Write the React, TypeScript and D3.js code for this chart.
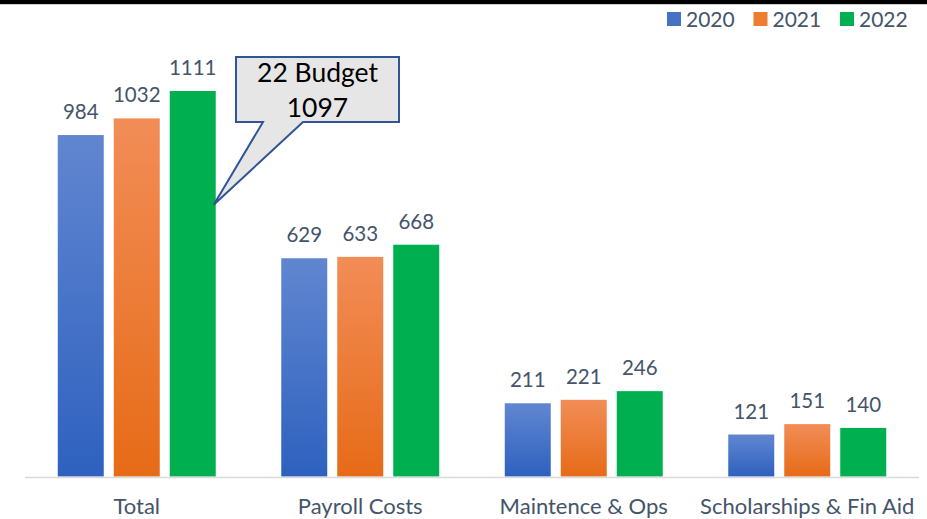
import React from 'react';
import * as d3 from 'd3';

// chart data
const categories = ['Total', 'Payroll Costs', 'Maintence & Ops', 'Scholarships & Fin Aid'];
const years = ['2020', '2021', '2022'];
const values2020 = [984, 629, 211, 121];
const values2021 = [1032, 633, 221, 151];
const values2022 = [1111, 668, 246, 140];
const seriesValues = [values2020, values2021, values2022];
const budgetLabel = ['22 Budget', '1097'];
const budgetPointerAt = 783; // where the callout arrow touches the 2022 Total bar

const W = 927;
const H = 519;
const baseline = 476.5;
const font = 'Lato, "Open Sans", sans-serif';
const labelColor = '#44546a';

const fills = ['url(#gBlue)', 'url(#gOrange)', '#00b050'];
const legendColors = ['#4472c4', '#ed7d31', '#00b050'];

export default function App() {
  const x = d3.scaleBand<string>().domain(categories).range([25, 919]).padding(0);
  const xi = d3.scaleBand<string>()
    .domain(years)
    .range([0, x.bandwidth()])
    .paddingInner(10 / 56)
    .paddingOuter(0.585);
  const y = d3.scaleLinear().domain([0, 1200]).range([baseline, baseline - 1200 * 0.347]);

  // callout box
  const tipX = (x('Total') ?? 0) + (xi('2022') ?? 0) + xi.bandwidth() - 2;
  const tipY = y(budgetPointerAt);
  const bx0 = 236, bx1 = 399, by0 = 57, by1 = 122;
  const calloutPath = `M${bx0},${by0} H${bx1} V${by1} H303 L${tipX},${tipY} L263,${by1} H${bx0} Z`;

  return (
    <svg width={W} height={H} style={{ position: 'absolute', left: 0, top: 0, background: '#fff' }}>
      <defs>
        <linearGradient id="gBlue" x1="0" y1="0" x2="0" y2="1">
          <stop offset="0" stopColor="#6186d0" />
          <stop offset="1" stopColor="#2e61bf" />
        </linearGradient>
        <linearGradient id="gOrange" x1="0" y1="0" x2="0" y2="1">
          <stop offset="0" stopColor="#f28d57" />
          <stop offset="1" stopColor="#e66b17" />
        </linearGradient>
      </defs>

      {/* top border */}
      <rect x={0} y={0} width={W} height={4} fill="#000" />
      <rect x={0} y={4} width={W} height={1} fill="#d0d0d0" />

      {/* legend */}
      {years.map((yr, i) => (
        <g key={yr} transform={`translate(${667 + i * 86.5},0)`}>
          <rect x={0} y={12} width={14} height={14} fill={legendColors[i]} />
          <text x={19} y={27} fontFamily={font} fontSize={21} fill={labelColor}>{yr}</text>
        </g>
      ))}

      {/* bars */}
      {categories.map((cat, ci) => (
        <g key={cat} transform={`translate(${x(cat)},0)`}>
          {years.map((yr, si) => {
            const v = seriesValues[si][ci];
            const bx = xi(yr) ?? 0;
            return (
              <g key={yr}>
                <rect x={bx} y={y(v)} width={xi.bandwidth()} height={baseline - y(v)} fill={fills[si]} />
                <text
                  x={bx + xi.bandwidth() / 2}
                  y={y(v) - 16}
                  textAnchor="middle"
                  fontFamily={font}
                  fontSize={20.5}
                  fill={labelColor}
                >
                  {v}
                </text>
              </g>
            );
          })}
          <text
            x={x.bandwidth() / 2}
            y={513.5}
            textAnchor="middle"
            fontFamily={font}
            fontSize={22}
            fill={labelColor}
          >
            {cat}
          </text>
        </g>
      ))}

      {/* axis line */}
      <line x1={25} x2={919} y1={baseline + 1} y2={baseline + 1} stroke="#d9d9d9" strokeWidth={1.5} />

      {/* budget callout */}
      <path d={calloutPath} fill="#e7e6e6" stroke="#2f5597" strokeWidth={2} strokeLinejoin="miter" />
      <text x={(bx0 + bx1) / 2} y={82} textAnchor="middle" fontFamily={font} fontSize={26.5} fill="#000">
        {budgetLabel[0]}
      </text>
      <text x={(bx0 + bx1) / 2} y={117} textAnchor="middle" fontFamily={font} fontSize={26.5} fill="#000">
        {budgetLabel[1]}
      </text>
    </svg>
  );
}
